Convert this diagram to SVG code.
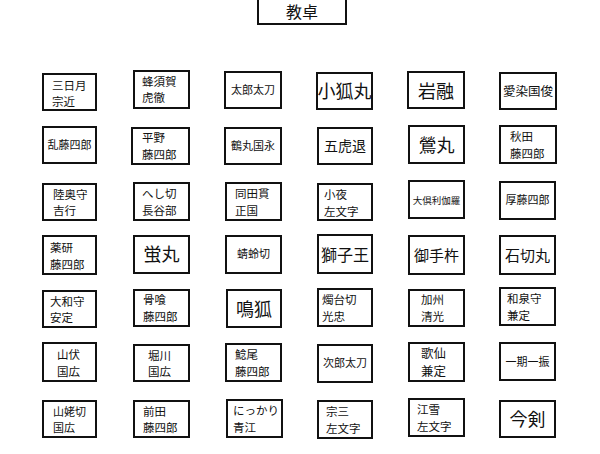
<svg xmlns="http://www.w3.org/2000/svg" width="600" height="454" viewBox="0 0 600 454">
<style>
rect{fill:#fff;stroke:#111;stroke-width:2}
text{font-family:"Noto Sans CJK JP",sans-serif;fill:#111;text-anchor:middle}
.m{font-size:11.5px;text-anchor:start}.l{font-size:18px}.s{font-size:11px}
.t1{transform:translateY(-0.5px)}.t2{transform:translateY(0.8px)}
</style>
<rect x="0" y="0" width="600" height="454" style="stroke:none"/>
<g id="desk"><rect x="258" y="-2" width="88" height="26"/><text x="302" y="18" style="font-size:16px">教卓</text></g>
<g id="seats">
<g id="r1">
<g><rect x="43" y="74" width="53" height="36"/><text class="m" x="52" y="89.5">三日月</text><text class="m" x="52" y="105.8">宗近</text></g>
<g><rect x="134" y="71" width="55" height="37"/><text class="m" x="142" y="85.5">蜂須賀</text><text class="m" x="142" y="101.8">虎徹</text></g>
<g><rect x="225" y="72" width="56" height="36"/><text class="s" x="253" y="94">太郎太刀</text></g>
<g><rect x="317" y="73" width="55" height="36"/><text class="l" x="344.5" y="98">小狐丸</text></g>
<g><rect x="408" y="72" width="56" height="36"/><text class="l" x="436" y="98">岩融</text></g>
<g><rect x="500" y="73" width="56" height="36"/><text x="528" y="96" style="font-size:12.5px">愛染国俊</text></g>
</g>
<g id="r2">
<g><rect x="43" y="127" width="53" height="36"/><text class="s" x="69.5" y="149">乱藤四郎</text></g>
<g><rect x="132" y="128" width="57" height="36"/><text class="m" x="142" y="141.5">平野</text><text class="m" x="142" y="158.8">藤四郎</text></g>
<g><rect x="225" y="128" width="56" height="36"/><text class="s" x="253" y="150">鶴丸国永</text></g>
<g><rect x="318" y="128" width="54" height="36"/><text x="345" y="151" style="font-size:14px">五虎退</text></g>
<g><rect x="409" y="126" width="55" height="37"/><text class="l" x="436.5" y="152">鶯丸</text></g>
<g><rect x="500" y="126" width="56" height="37"/><text class="m" x="510" y="140.5">秋田</text><text class="m" x="510" y="157.8">藤四郎</text></g>
</g>
<g id="r3">
<g><rect x="43" y="184" width="53" height="36"/><text class="m" x="53" y="198.5">陸奥守</text><text class="m" x="53" y="214.8">吉行</text></g>
<g><rect x="134" y="183" width="55" height="37"/><text class="m" x="142" y="197.5">へし切</text><text class="m" x="142" y="214.8">長谷部</text></g>
<g><rect x="226" y="183" width="55" height="37"/><text class="m" x="235" y="197.5">同田貫</text><text class="m" x="235" y="214.8">正国</text></g>
<g><rect x="318" y="184" width="54" height="36"/><text class="m" x="324" y="198.5">小夜</text><text class="m" x="324" y="215.8">左文字</text></g>
<g><rect x="409" y="181" width="55" height="37"/><text x="436.5" y="204" style="font-size:9.5px">大倶利伽羅</text></g>
<g><rect x="500" y="182" width="55" height="37"/><text class="s" x="527.5" y="204">厚藤四郎</text></g>
</g>
<g id="r4">
<g><rect x="43" y="236" width="53" height="38"/><text class="m" x="50" y="251.5">薬研</text><text class="m" x="50" y="268.8">藤四郎</text></g>
<g><rect x="134" y="236" width="55" height="37"/><text class="l" x="161.5" y="261">蛍丸</text></g>
<g><rect x="226" y="236" width="55" height="37"/><text class="s" x="253.5" y="258">蜻蛉切</text></g>
<g><rect x="318" y="235" width="54" height="38"/><text x="345" y="261" style="font-size:16px">獅子王</text></g>
<g><rect x="409" y="236" width="55" height="38"/><text x="436.5" y="261" style="font-size:15px">御手杵</text></g>
<g><rect x="500" y="236" width="55" height="38"/><text x="527.5" y="261" style="font-size:15px">石切丸</text></g>
</g>
<g id="r5">
<g><rect x="43" y="291" width="53" height="36"/><text class="m" x="50" y="305.5">大和守</text><text class="m" x="50" y="321.8">安定</text></g>
<g><rect x="134" y="290" width="55" height="36"/><text class="m" x="143" y="303.5">骨喰</text><text class="m" x="143" y="320.8">藤四郎</text></g>
<g><rect x="227" y="290" width="54" height="37"/><text class="l" x="254" y="316">鳴狐</text></g>
<g><rect x="318" y="289" width="54" height="37"/><text class="m" x="322" y="303.5">燭台切</text><text class="m" x="322" y="320.8">光忠</text></g>
<g><rect x="409" y="290" width="55" height="36"/><text class="m" x="421" y="303.5">加州</text><text class="m" x="421" y="320.8">清光</text></g>
<g><rect x="500" y="288" width="55" height="37"/><text class="m" x="507" y="302.5">和泉守</text><text class="m" x="507" y="319.8">兼定</text></g>
</g>
<g id="r6">
<g><rect x="43" y="343" width="53" height="38"/><text class="m" x="57" y="358.5">山伏</text><text class="m" x="57" y="375.8">国広</text></g>
<g><rect x="134" y="345" width="55" height="36"/><text class="m" x="148" y="359.5">堀川</text><text class="m" x="148" y="375.8">国広</text></g>
<g><rect x="226" y="344" width="55" height="37"/><text class="m" x="235" y="358.5">鯰尾</text><text class="m" x="235" y="375.8">藤四郎</text></g>
<g><rect x="318" y="345" width="54" height="37"/><text class="s" x="345" y="367">次郎太刀</text></g>
<g><rect x="409" y="343" width="55" height="38"/><text class="m" x="421" y="357.5" style="font-size:12.5px">歌仙</text><text class="m" x="421" y="376" style="font-size:12.5px">兼定</text></g>
<g><rect x="500" y="343" width="55" height="37"/><text class="s" x="527.5" y="366">一期一振</text></g>
</g>
<g id="r7">
<g><rect x="43" y="401" width="53" height="36"/><text class="m" x="53" y="415.5" style="font-size:11px">山姥切</text><text class="m" x="53" y="431.8" style="font-size:11px">国広</text></g>
<g><rect x="134" y="401" width="55" height="36"/><text class="m" x="143" y="415.5">前田</text><text class="m" x="143" y="431.8">藤四郎</text></g>
<g><rect x="227" y="400" width="55" height="37"/><text class="m" x="233" y="414.5">にっかり</text><text class="m" x="233" y="431.8">青江</text></g>
<g><rect x="318" y="401" width="54" height="37"/><text class="m" x="326" y="415.5">宗三</text><text class="m" x="326" y="432.8">左文字</text></g>
<g><rect x="409" y="399" width="55" height="37"/><text class="m" x="417" y="413.5">江雪</text><text class="m" x="417" y="430.8">左文字</text></g>
<g><rect x="500" y="401" width="55" height="36"/><text class="l" x="527.5" y="426">今剣</text></g>
</g>
</g>
<g id="connectors"/>
</svg>
